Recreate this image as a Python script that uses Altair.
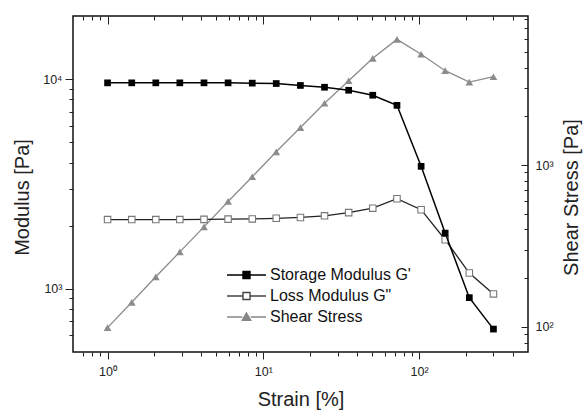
import altair as alt
import pandas as pd

# ---- data ----
strain = [1, 1.43, 2.04, 2.91, 4.16, 5.94, 8.49, 12.1, 17.3, 24.7, 35.3, 50.4, 72.1, 103, 147, 210, 300]
storage = [9600, 9600, 9600, 9600, 9600, 9600, 9570, 9530, 9330, 9150, 8850, 8380, 7500, 3840, 1845, 908, 643]
loss = [2140, 2140, 2140, 2140, 2145, 2150, 2155, 2170, 2190, 2230, 2310, 2425, 2690, 2385, 1715, 1190, 946]
shear = [99, 142, 204, 291, 415, 596, 847, 1208, 1706, 2410, 3320, 4570, 5980, 4840, 3830, 3260, 3515]

series_names = ["Storage Modulus G'", 'Loss Modulus G"', "Shear Stress"]

x_ticks = [0.7, 0.8, 0.9, 1, 2, 3, 4, 5, 6, 7, 8, 9, 10, 20, 30, 40, 50, 60, 70, 80, 90, 100, 200, 300, 400]
x_labels = {1: "10⁰", 10: "10¹", 100: "10²"}
left_ticks = [600, 700, 800, 900, 1000, 2000, 3000, 4000, 5000, 6000, 7000, 8000, 9000, 10000]
left_labels = {1000: "10³", 10000: "10⁴"}
right_ticks = [80, 90, 100, 200, 300, 400, 500, 600, 700, 800, 900, 1000, 2000, 3000, 4000, 5000, 6000, 7000, 8000]
right_labels = {100: "10²", 1000: "10³"}

df = pd.DataFrame({"strain": strain, "storage": storage, "loss": loss, "shear": shear})
legend_df = pd.DataFrame({"series": series_names})

FONT = "Liberation Sans"


def label_expr(m):
    s = "''"
    for v, t in reversed(list(m.items())):
        s = f"datum.value == {v} ? '{t}' : {s}"
    return s


def tick_size(m, major, minor):
    test = " || ".join(f"datum.value == {v}" for v in m)
    return {"condition": {"test": test, "value": major}, "value": minor}


common = dict(domain=False, grid=False, labelOverlap=False, labelFlush=False,
              labelFont=FONT, labelFontSize=12.5, labelColor="#222",
              tickWidth=1, tickColor="#222",
              titleFont=FONT, titleFontSize=20, titleFontWeight="normal", titleColor="#222")

x_scale = alt.Scale(type="log", domain=[0.6, 500], nice=False)
left_scale = alt.Scale(type="log", domain=[500, 20000], nice=False)
right_scale = alt.Scale(type="log", domain=[70, 8340], nice=False)

bottom_axis = alt.Axis(orient="bottom", values=x_ticks, labelExpr=label_expr(x_labels),
                       tickSize=tick_size(x_labels, 7, 4), labelPadding=6,
                       title="Strain [%]", titleX=227.5, titleY=53, titleBaseline="alphabetic",
                       titleAlign="center", **common)
top_axis = alt.Axis(orient="top", values=x_ticks, labels=False,
                    tickSize=tick_size(x_labels, -8, -4), title=None, **common)
left_axis = alt.Axis(orient="left", values=left_ticks, labelExpr=label_expr(left_labels),
                     tickSize=tick_size(left_labels, 8, 4), labelPadding=3,
                     title="Modulus [Pa]", titleAngle=270, titleX=-51, titleY=181,
                     titleBaseline="middle", titleAlign="center", **common)
right_axis = alt.Axis(orient="right", values=right_ticks, labelExpr=label_expr(right_labels),
                      tickSize=tick_size(right_labels, -7, -4), labelPadding=14,
                      title="Shear Stress [Pa]", titleAngle=270, titleX=43.5, titleY=181,
                      titleBaseline="middle", titleAlign="center", **common)

base = alt.Chart(df)
xb = alt.X("strain:Q", scale=x_scale, axis=bottom_axis)
xt = alt.X("strain:Q", scale=x_scale, axis=top_axis)

# legend symbols: line with marker in the middle (custom paths)
sym_paths = [
    "M-3.9,0H-0.7M0.7,0H3.9M-0.7,-0.7H0.7V0.7H-0.7Z",
    "M-3.9,0H-0.7M0.7,0H3.9M-0.7,-0.7H0.7V0.7H-0.7Z",
    "M-3.9,0H-0.85M0.85,0H3.9M0,-0.8L0.85,0.65H-0.85Z",
]
leg = alt.Legend(orient="none", legendX=165.5, legendY=251, title=None,
                 labelFont=FONT, labelFontSize=16, labelColor="#111",
                 symbolSize=100, symbolStrokeWidth=1.4, labelOffset=15.5,
                 rowPadding=5, padding=0)

gp_line = base.mark_line(color="#000", strokeWidth=1.5).encode(
    x=xb, y=alt.Y("storage:Q", scale=left_scale, axis=left_axis))
gp_pts = base.mark_point(shape="square", size=45, filled=True, color="#000", opacity=1).encode(
    x=xb, y=alt.Y("storage:Q", scale=left_scale, axis=left_axis))
gpp_line = base.mark_line(color="#222", strokeWidth=1.3).encode(
    x=xb, y=alt.Y("loss:Q", scale=left_scale, axis=left_axis))
gpp_pts = base.mark_point(shape="square", size=42, filled=False, fill="#fff", stroke="#777",
                          strokeWidth=1.1, opacity=1).encode(
    x=xb, y=alt.Y("loss:Q", scale=left_scale, axis=left_axis))
legend_layer = alt.Chart(legend_df).transform_filter("false").mark_point(
    filled=False, opacity=1, strokeWidth=1.4).encode(
    shape=alt.Shape("series:N", scale=alt.Scale(domain=series_names, range=sym_paths), legend=leg),
    stroke=alt.Stroke("series:N", scale=alt.Scale(domain=series_names, range=["#000", "#444", "#888"]), legend=leg),
    fill=alt.Fill("series:N", scale=alt.Scale(domain=series_names, range=["#000", "#fff", "#888"]), legend=leg),
)

sh_line = base.mark_line(color="#8c8c8c", strokeWidth=1.3).encode(
    x=xt, y=alt.Y("shear:Q", scale=right_scale, axis=right_axis))
sh_pts = base.mark_point(shape="triangle-up", size=60, filled=True, color="#8c8c8c", opacity=1).encode(
    x=xt, y=alt.Y("shear:Q", scale=right_scale, axis=right_axis))

right = alt.layer(sh_line, sh_pts)
left = alt.layer(gpp_line, gpp_pts, gp_line, gp_pts, legend_layer)

chart = alt.layer(right, left).resolve_scale(y="independent").resolve_axis(x="independent").properties(
    width=455, height=336,
    padding={"left": 73, "top": 16, "right": 56, "bottom": 60},
    autosize=alt.AutoSizeParams(type="none"),
    background="white",
).configure_view(stroke="#111", strokeWidth=1.5)

chart.save("out.html", embed_options={"renderer": "svg", "actions": False})
